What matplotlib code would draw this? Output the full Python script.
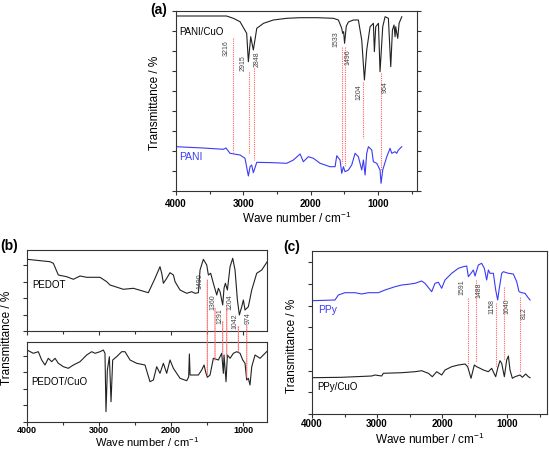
import matplotlib
matplotlib.use('Agg')
import matplotlib.pyplot as plt
from matplotlib.ticker import MultipleLocator, NullFormatter
from matplotlib.patches import ConnectionPatch

plt.rcParams['font.family'] = ['Liberation Sans', 'DejaVu Sans']
plt.rcParams['mathtext.default'] = 'regular'

# ---- (a) PANI/CuO and PANI ----
wn_pani_cuo = [4000, 3600, 3250, 3148, 3049, 2950, 2925, 2890, 2851, 2800, 2700, 2628, 2554, 2355,
               2157, 1900, 1662, 1588, 1538, 1525, 1510, 1496, 1470, 1439, 1365, 1291, 1241, 1201,
               1167, 1117, 1092, 1068, 1053, 1033, 993, 969, 929, 894, 845, 810, 785, 761, 746,
               736, 721, 706, 686, 646]
t_pani_cuo = [175, 175, 175, 172.7, 169.3, 157.7, 129.3, 154.3, 141, 162.7, 167.7, 169.3, 171, 172.7,
              173.3, 173.3, 172.7, 171, 162.7, 157.7, 159.3, 147.7, 165, 169, 171, 171, 151, 111,
              141, 164.3, 166, 167.7, 139.3, 164.3, 167.7, 119.3, 164.3, 174.3, 172.7, 124.3, 161, 166, 154.3,
              164.3, 158, 152.7, 167.7, 174.3]

wn_pani = [4000, 3600, 3297, 3257, 3198, 3049, 2975, 2925, 2900, 2876, 2851, 2800, 2554, 2355, 2256,
           2157, 2108, 2034, 1959, 1860, 1712, 1637, 1612, 1563, 1538, 1513, 1489, 1439, 1390, 1340,
           1291, 1241, 1216, 1191, 1167, 1142, 1092, 1068, 1018, 993, 969, 954, 929, 869, 820, 795,
           746, 721, 696, 646]
t_pani = [44.3, 43, 41.7, 43, 37.7, 36, 32.7, 15, 24.3, 26, 18.3, 28.7, 28.3, 27.7, 31,
          37, 29.3, 34.3, 32.7, 27.7, 24.3, 24.3, 35.3, 31, 17.7, 24.3, 19.3, 21, 26, 37.7,
          34.3, 21, 31, 16, 37.7, 44.3, 41, 29.3, 27.7, 24.3, 21, 7.7, 21, 34.3, 42.7, 37.7,
          39.3, 37.7, 41, 44.3]

lines_a_wn = [3158, 2915, 2841, 1538, 1489, 1216, 959]
lines_a_top = [153, 119, 123, 144, 144, 109, 118]
lines_a_bot = [39, 38, 31, 28, 24, 53, 21]
peaks_a = ['3216', '2915', '2848', '1533', '1496', '1204', '964']
peaks_a_wn = [3257, 3009, 2800, 1622, 1439, 1281, 894]
peaks_a_t = [143.3, 127.7, 132, 151.7, 134.3, 99.3, 103.7]

# ---- (b) PEDOT and PEDOT/CuO ----
wn_pedot = [4000, 3681, 3634, 3565, 3449, 3356, 3264, 3171, 2986, 2893, 2847, 2662, 2523, 2315,
            2222, 2153, 2129, 2106, 2060, 2014, 1967, 1944, 1875, 1782, 1713, 1666, 1620, 1597,
            1551, 1504, 1481, 1449, 1412, 1365, 1342, 1319, 1282, 1264, 1245, 1217, 1180, 1143,
            1111, 1078, 1051, 1018, 995, 972, 926, 879, 810, 740, 694, 648]
t_pedot = [71.7, 69.3, 67.7, 56, 54.3, 51.7, 55, 53.7, 53.7, 49.3, 46, 41.7, 42.7, 38.3,
           52.7, 64.3, 57.7, 47.7, 52.7, 58.3, 56, 49.3, 41, 37.7, 39.3, 37.7, 38.3, 61,
           71.7, 66, 56, 57.7, 47.7, 36, 42.7, 39.3, 26, 42.7, 47.7, 41, 64.3, 72.7,
           61, 31, 16, 24.3, 31, 21, 24.3, 41, 57.7, 61, 66, 71]

wn_pedot_cuo = [4000, 3912, 3843, 3796, 3750, 3704, 3657, 3611, 3565, 3495, 3426, 3356, 3264, 3171,
                3102, 3055, 2986, 2940, 2917, 2903, 2884, 2856, 2833, 2810, 2755, 2685, 2639, 2569,
                2477, 2361, 2292, 2245, 2199, 2153, 2106, 2060, 2014, 1967, 1875, 1782, 1755, 1745,
                1735, 1690, 1620, 1574, 1541, 1514, 1495, 1458, 1412, 1342, 1296, 1273, 1264, 1236,
                1217, 1180, 1134, 1088, 1041, 1004, 972, 949, 926, 903, 879, 833, 764, 694, 648]
t_pedot_cuo = [72, 68.7, 70.3, 62, 57, 63.7, 60.3, 63.7, 58.7, 55.3, 53.7, 57, 60.3, 67,
               70.3, 68.7, 70.3, 72, 68.7, 10.3, 52, 65.3, 20.3, 62, 65.3, 70.3, 70.3, 62,
               58.7, 57, 40.3, 42, 55.3, 48.7, 58.7, 48.7, 62, 53.7, 43.7, 41.3, 45, 68,
               47, 47, 47, 52, 57, 48.7, 44.7, 47, 63.7, 62, 68.7, 48.7, 67, 40.3,
               67, 63.7, 68.7, 70.3, 68.7, 62, 58.7, 42, 43.7, 37, 55.3, 67, 63.7, 68.7, 72]

lines_b_wn = [1496, 1389, 1282, 1226, 1065, 948]
lines_b_top = [51, 22.7, 9.3, 22.7, 4.3, 6]
lines_b_bot = [47, 62, 68.7, 65, 70, 45]
peaks_b = ['1490', '1360', '1291', '1204', '1042', '974']
peaks_b_wn = [1597, 1421, 1319, 1180, 1111, 926]
peaks_b_t = [50.3, 28.7, 15.3, 28.7, 10.3, 12.7]

# ---- (c) PPy and PPy/CuO ----
wn_ppy = [4000, 3646, 3595, 3492, 3338, 3236, 3133, 2979, 2877, 2723, 2620, 2518, 2415, 2313,
          2262, 2159, 2108, 2056, 2005, 1954, 1851, 1749, 1672, 1620, 1595, 1554, 1518, 1492,
          1441, 1390, 1349, 1313, 1287, 1262, 1210, 1174, 1144, 1123, 1082, 1056, 979, 903,
          851, 815, 774, 723, 687, 646]
t_ppy = [113.3, 114, 119, 121.3, 121.3, 120, 121.3, 121.3, 124, 127.3, 129, 129.7, 130.7, 133,
         130.7, 122.3, 130.7, 131.7, 125.7, 134, 140.7, 145.7, 147.3, 148, 137.3, 140.7, 144, 138,
         149, 150.7, 145.7, 134, 144, 140.7, 140.7, 124, 114, 124, 140.7, 142.3, 140.7, 140,
         132.3, 122.3, 121.3, 120.7, 117.3, 114]

wn_ppy_cuo = [4000, 3544, 3082, 3031, 2928, 2903, 2620, 2415, 2313, 2210, 2149, 2082, 2005, 1954,
              1851, 1749, 1646, 1605, 1554, 1503, 1467, 1415, 1364, 1287, 1236, 1200, 1174, 1144,
              1108, 1082, 1041, 1005, 979, 954, 918, 877, 800, 764, 713, 672, 646]
t_ppy_cuo = [36.3, 36.7, 38, 39, 38, 40.7, 41.3, 42.3, 43.3, 40.7, 37.3, 42.3, 39, 44,
             47.3, 49, 50, 47.3, 35.7, 49, 47.3, 45.7, 44, 42.3, 45.7, 40.7, 37.3, 45.7,
             53.3, 50.7, 37.3, 54, 58, 44, 35.7, 37.3, 39, 36.7, 40, 37.3, 36.3]

lines_c_wn = [1595, 1482, 1174, 1041, 800]
lines_c_top = [115.7, 134, 110.7, 127, 117.3]
lines_c_bot = [49, 52, 47, 54, 42]
peaks_c = ['1591', '1488', '1158', '1040', '812']
peaks_c_wn = [1687, 1431, 1236, 1005, 733]
peaks_c_t = [127.3, 123.3, 107.3, 107.3, 101.3]

W, H = 549, 450
BLUE = '#3b3bf5'
RED = '#ff6060'
SPINE = '#333333'


def make_ax(x0, y0, x1, y1, xmax, ymax, ystep, pad, labels=True, lsize=7):
    ax = fig.add_axes([x0 / W, 1 - y1 / H, (x1 - x0) / W, (y1 - y0) / H])
    ax.set_xlim(4000, xmax)
    ax.set_ylim(0, ymax)
    ax.xaxis.set_major_locator(MultipleLocator(1000))
    ax.xaxis.set_minor_locator(MultipleLocator(500))
    ax.yaxis.set_major_locator(MultipleLocator(ystep))
    ax.yaxis.set_major_formatter(NullFormatter())
    ax.tick_params(which='both', direction='out', color=SPINE, width=0.8)
    ax.tick_params(which='major', length=3, pad=pad, labelsize=lsize)
    ax.tick_params(which='minor', length=2)
    for lab in ax.get_xticklabels():
        lab.set_fontweight('bold')
    if not labels:
        ax.xaxis.set_major_formatter(NullFormatter())
    for s in ax.spines.values():
        s.set_color(SPINE)
        s.set_linewidth(0.8)
    return ax


def peak_labels(ax, names, xs, ys):
    for n, x, y in zip(names, xs, ys):
        ax.text(x, y, n, rotation=90, ha='center', va='center', fontsize=5, color='#444444')


def ylabel(px, py):
    fig.text(px / W, 1 - py / H, 'Transmittance / %', fontsize=8.5, rotation=90,
             ha='center', va='center')


fig = plt.figure(figsize=(W / 100, H / 100), dpi=100)

# panel (a)
ax_a = make_ax(176, 11, 417, 191, 420, 180, 20, 3)
ax_a.tick_params(axis='y', right=True)
ax_a.plot(wn_pani_cuo, t_pani_cuo, color='#222222', lw=0.8)
ax_a.plot(wn_pani, t_pani, color=BLUE, lw=0.8)
for x, t0, t1 in zip(lines_a_wn, lines_a_top, lines_a_bot):
    ax_a.plot([x, x], [t0, t1], color=RED, lw=0.8, linestyle=(0, (1, 1)))
peak_labels(ax_a, peaks_a, peaks_a_wn, peaks_a_t)
ax_a.text(0.012, 0.883, 'PANI/CuO', transform=ax_a.transAxes, fontsize=7, va='center')
ax_a.text(0.012, 0.189, 'PANI', transform=ax_a.transAxes, fontsize=7.5, va='center', color=BLUE)
ax_a.set_xlabel('Wave number / cm$^{-1}$', fontsize=8.5, va='top')
ax_a.xaxis.set_label_coords(0.5, -0.111)
ylabel(155, 103)
fig.text(150 / W, 1 - 10 / H, '(a)', fontsize=10, fontweight='bold', va='center')

# panel (b)
ax_b1 = make_ax(27, 249.5, 267, 331, 667, 81.5, 16.5, 0, labels=False)
ax_b2 = make_ax(27, 341.6, 267, 422, 667, 80.4, 16.6, 0, lsize=6.5)
ax_b1.plot(wn_pedot, t_pedot, color='#222222', lw=0.8)
ax_b2.plot(wn_pedot_cuo, t_pedot_cuo, color='#222222', lw=0.8)
for x, t0, t1 in zip(lines_b_wn, lines_b_top, lines_b_bot):
    con = ConnectionPatch(xyA=(x, t0), coordsA=ax_b1.transData, xyB=(x, t1), coordsB=ax_b2.transData,
                          color=RED, lw=0.8, linestyle=(0, (1, 1)))
    fig.add_artist(con)
peak_labels(ax_b1, peaks_b, peaks_b_wn, peaks_b_t)
ax_b1.text(0.02, 0.564, 'PEDOT', transform=ax_b1.transAxes, fontsize=7, va='center')
ax_b2.text(0.017, 0.5, 'PEDOT/CuO', transform=ax_b2.transAxes, fontsize=7, va='center')
ax_b2.set_xlabel('Wave number / cm$^{-1}$', fontsize=8, va='top')
ax_b2.xaxis.set_label_coords(0.5, -0.165)
ylabel(7, 338)
fig.text(0 / W, 1 - 246 / H, '(b)', fontsize=10, fontweight='bold', va='center')

# panel (c)
ax_c = make_ax(312, 251, 547, 414, 385, 163, 21.7, 0.5)
ax_c.plot(wn_ppy, t_ppy, color=BLUE, lw=0.8)
ax_c.plot(wn_ppy_cuo, t_ppy_cuo, color='#222222', lw=0.8)
for x, t0, t1 in zip(lines_c_wn, lines_c_top, lines_c_bot):
    ax_c.plot([x, x], [t0, t1], color=RED, lw=0.8, linestyle=(0, (1, 1)))
peak_labels(ax_c, peaks_c, peaks_c_wn, peaks_c_t)
ax_c.text(0.026, 0.638, 'PPy', transform=ax_c.transAxes, fontsize=7.5, va='center', color=BLUE)
ax_c.text(0.021, 0.168, 'PPy/CuO', transform=ax_c.transAxes, fontsize=7, va='center')
ax_c.set_xlabel('Wave number / cm$^{-1}$', fontsize=8.5, va='top')
ax_c.xaxis.set_label_coords(0.5, -0.11)
ylabel(292, 346)
fig.text(283 / W, 1 - 247 / H, '(c)', fontsize=10, fontweight='bold', va='center')

fig.savefig('out.png', dpi=100)
